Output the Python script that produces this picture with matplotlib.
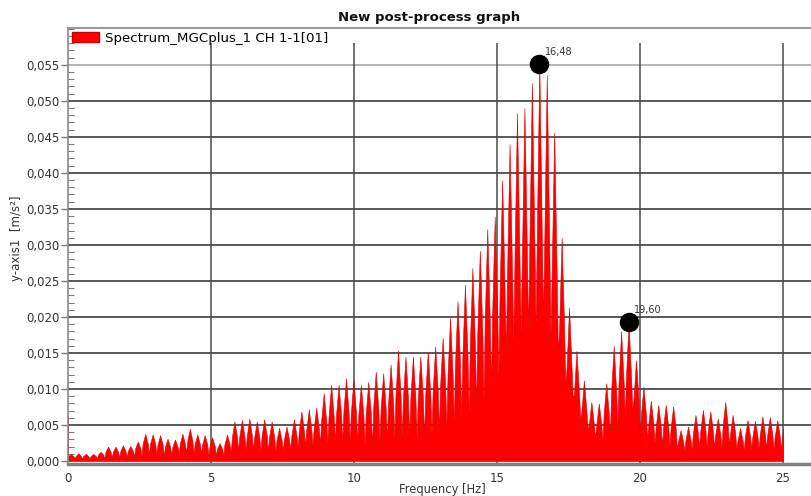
"""Spectrum plot, post-process graph

"""

import numpy as np
import matplotlib
matplotlib.use('Agg')
import matplotlib.pyplot as plt
from matplotlib.patches import Patch
from matplotlib.ticker import MultipleLocator, FuncFormatter

plt.rcParams['font.family'] = ['DejaVu Sans']

# Harmonic spikes of the spectrum, frequency grid in Hz
peak_spacing = 0.26
peak_freq = 0.10 + peak_spacing * np.arange(96)
shoulder_offset = 0.09   # half width of a spike tip
notch_offset = 0.13      # notch between two spikes

# Peak heights in m/s2 (one per spike)
peak_val = [0.0010, 0.0011, 0.0010, 0.0010, 0.0013, 0.0020, 0.0020, 0.0022, 0.0021, 0.0027,
            0.0038, 0.0037, 0.0036, 0.0031, 0.0030, 0.0038, 0.0045, 0.0037, 0.0036,
            0.0033, 0.0025, 0.0037, 0.0055, 0.0057, 0.0059, 0.0055, 0.0058, 0.0055, 0.0046,
            0.0048, 0.0058, 0.0069, 0.0072, 0.0074, 0.0094, 0.0106, 0.0106, 0.0115, 0.0113,
            0.0106, 0.0110, 0.0124, 0.0122, 0.0134, 0.0154, 0.0145, 0.0145, 0.0145, 0.0152,
            0.0159, 0.0171, 0.0199, 0.0222, 0.0245, 0.0268, 0.0292, 0.0322, 0.0339,
            0.0390, 0.0440, 0.0483, 0.0490, 0.0525, 0.0552, 0.0536, 0.0456, 0.0310, 0.0213,
            0.0153, 0.0112, 0.0082, 0.0080, 0.0108, 0.0160, 0.0180, 0.0193, 0.0140, 0.0103,
            0.0084, 0.0078, 0.0078, 0.0076, 0.0043, 0.0048, 0.0064, 0.0071, 0.0069, 0.0059,
            0.0082, 0.0064, 0.0046, 0.0057, 0.0056, 0.0062, 0.0061, 0.0057]

# Level of the solid red body under each spike tip
body_val = [0.0007, 0.0007, 0.0007, 0.0007, 0.0009, 0.0013, 0.0013, 0.0014, 0.0014, 0.0018,
            0.0024, 0.0024, 0.0023, 0.0020, 0.0020, 0.0024, 0.0028, 0.0024, 0.0023,
            0.0021, 0.0017, 0.0023, 0.0033, 0.0034, 0.0035, 0.0033, 0.0035, 0.0033, 0.0029,
            0.0030, 0.0035, 0.0041, 0.0043, 0.0045, 0.0055, 0.0062, 0.0063, 0.0068, 0.0067,
            0.0063, 0.0065, 0.0073, 0.0072, 0.0079, 0.0090, 0.0086, 0.0086, 0.0087, 0.0091,
            0.0096, 0.0104, 0.0118, 0.0132, 0.0146, 0.0160, 0.0175, 0.0192, 0.0203,
            0.0230, 0.0255, 0.0275, 0.0280, 0.0295, 0.0305, 0.0295, 0.0255, 0.0180, 0.0128,
            0.0092, 0.0068, 0.0050, 0.0049, 0.0065, 0.0095, 0.0108, 0.0115, 0.0085, 0.0063,
            0.0050, 0.0047, 0.0047, 0.0045, 0.0027, 0.0029, 0.0038, 0.0042, 0.0041, 0.0036,
            0.0048, 0.0038, 0.0028, 0.0034, 0.0034, 0.0037, 0.0036, 0.0034]

# Notch depths between spike k and spike k+1
valley_val = [0.0004, 0.0003, 0.0003, 0.0004, 0.0004, 0.0005, 0.0005, 0.0006, 0.0006,
              0.0007, 0.0008, 0.0009, 0.0008, 0.0009, 0.0010, 0.0011, 0.0010, 0.0009, 0.0009,
              0.0008, 0.0007, 0.0012, 0.0015, 0.0016, 0.0015, 0.0016, 0.0014, 0.0013, 0.0015,
              0.0017, 0.0019,
              0.0021, 0.0022, 0.0024, 0.0026, 0.0028, 0.0027, 0.0029, 0.0027,
              0.0022, 0.0021, 0.0026, 0.0028, 0.0030, 0.0033, 0.0030, 0.0031,
              0.0033, 0.0036, 0.0040, 0.0045, 0.0052, 0.0058, 0.0065,
              0.0072, 0.0085, 0.0100, 0.0120,
              0.0150, 0.0165, 0.0175, 0.0180, 0.0190, 0.0195, 0.0175,
              0.0150, 0.0108, 0.0088, 0.0060, 0.0045, 0.0033, 0.0030, 0.0037, 0.0050, 0.0060,
              0.0073, 0.0037, 0.0030,
              0.0026, 0.0022, 0.0020, 0.0017, 0.0014, 0.0016, 0.0019, 0.0020, 0.0019, 0.0018,
              0.0022, 0.0018, 0.0015, 0.0016, 0.0017, 0.0018, 0.0017, 0.0016]

# DC spike at the start and the cut at 25 Hz
lead_freq = [0.0, 0.006]
lead_val = [0.0062, 0.0012]
tail_freq = [25.0]
tail_val = [0.0045]

# Marked maxima
marker_freq = [16.48, 19.60]
marker_val = [0.0551, 0.0193]
marker_text = ['16,48', '19,60']

legend_name = 'Spectrum_MGCplus_1 CH 1-1[01]'
title = 'New post-process graph'

# Build the spectrum outline: shoulder, peak, shoulder, notch ...
freq = [lead_freq]
amp = [lead_val]
for f, p, b, v in zip(peak_freq, peak_val, body_val, valley_val):
    freq.append([f - shoulder_offset, f, f + shoulder_offset, f + notch_offset])
    amp.append([b, p, b, v])
freq.append(tail_freq)
amp.append(tail_val)
freq = np.concatenate(freq)
amp = np.concatenate(amp)

# Display configuration
fig = plt.figure(figsize=(8.11, 4.96), dpi=100)
ax = fig.add_axes([68 / 811, 1 - 464 / 496, 1 - 68 / 811, 436 / 496])
ax.set_xlim(0, 25.98)
ax.set_ylim(-0.0004, 0.0601)

# Grid
for yv in np.arange(0.005, 0.0505, 0.005):
    ax.axhline(yv, color='#3c3c3c', lw=1.2, zorder=1)
ax.axhline(0.055, color='#a8a8a8', lw=1.2, zorder=1)
ax.vlines([5, 10, 15, 20, 25], -0.0004, 0.058, color='#4a4a4a', lw=1.1, zorder=1)

# Spectrum drawing
ax.fill_between(freq, 0, amp, facecolor='#ff0000', edgecolor='#e00000', lw=0.4, zorder=2)

# Maxima markers
for f, v, t in zip(marker_freq, marker_val, marker_text):
    ax.plot(f, v, 'o', color='black', markersize=13, zorder=4)
    ax.annotate(t, (f, v), xytext=(4, 5), textcoords='offset points',
                fontsize=7, color='#333333', ha='left', va='bottom', zorder=5)

# Axes, ticks and labels
ax.set_xticks([0, 5, 10, 15, 20, 25])
ax.set_yticks(np.arange(0, 0.0551, 0.005))
ax.yaxis.set_minor_locator(MultipleLocator(0.001))
ax.yaxis.set_major_formatter(FuncFormatter(lambda v, pos: ('%.3f' % v).replace('.', ',')))
ax.tick_params(axis='x', length=0, pad=6, labelsize=8.5, labelcolor='#333333')
ax.tick_params(axis='y', which='major', direction='out', length=5, width=1,
               color='#777777', pad=1, labelsize=8.5, labelcolor='#333333')
ax.tick_params(axis='y', which='minor', direction='in', length=4, width=0.8, color='#777777')

ax.spines['right'].set_visible(False)
ax.spines['left'].set_color('#888888')
ax.spines['left'].set_linewidth(1.2)
ax.spines['top'].set_color('#9a9a9a')
ax.spines['top'].set_linewidth(1.5)
ax.spines['bottom'].set_color('#808080')
ax.spines['bottom'].set_linewidth(2.5)

ax.legend(handles=[Patch(facecolor='#ff0000', edgecolor='#cc0000', label=legend_name)],
          loc='upper left', frameon=False, fontsize=9.6, handlelength=2.0, handleheight=0.8,
          borderaxespad=0.1, borderpad=0.2, handletextpad=0.5)

fig.text(429 / 811, 1 - 17 / 496, title, ha='center', va='center',
         fontsize=9.5, fontweight='bold', color='#111111')
fig.text(17 / 811, 1 - 238 / 496, 'y-axis1  [m/s²]', rotation=90, ha='center', va='center',
         fontsize=8.5, color='#333333')
fig.text(442 / 811, 1 - 489 / 496, 'Frequency [Hz]', ha='center', va='center',
         fontsize=8.3, color='#333333')

fig.savefig('out.png', dpi=100)
